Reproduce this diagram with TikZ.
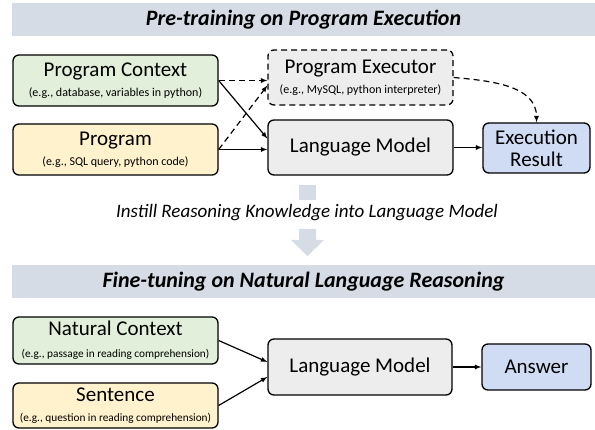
\documentclass[tikz,border=0pt]{standalone}
\usepackage{fontspec}
\setmainfont{Carlito}
\definecolor{vertclair}{HTML}{E2EFDA}
\definecolor{jauneclair}{HTML}{FFF2CC}
\definecolor{grisclair}{HTML}{EDEDED}
\definecolor{bleuclair}{HTML}{D0DCF4}
\definecolor{grisbleu}{HTML}{D6DCE5}
\newcommand{\legende}[1]{{\fontsize{12}{13}\selectfont #1}}
\newcommand{\petitelegende}[1]{{\fontsize{11.3}{13}\selectfont #1}}
\begin{document}
\begin{tikzpicture}[x=1pt, y=-1pt]
			\tikzset{boite/.style={draw=black, line width=1.3pt, rounded corners=6pt, align=center, inner sep=1pt, font=\fontsize{21}{20}\selectfont}, fleche/.style={>=latex, ->, line width=1.2pt}, tirets/.style={dash pattern=on 6pt off 4pt}, bandeau/.style={fill=grisbleu, minimum width=583pt, minimum height=33pt, font=\fontsize{22}{24}\selectfont\bfseries\itshape}};

			\useasboundingbox (0,0) rectangle (595,430);

			\node[bandeau] (titre1) at (303.5, 19.5) {Pre-training on Program Execution};
			\node[bandeau] (titre2) at (303.5,281.5) {Fine-tuning on Natural Language Reasoning};

			\node[boite, fill=vertclair,  minimum width=205pt, minimum height=51pt] (pctx) at (115.5,  80.5) {Program Context\\\legende{(e.g., database, variables in python)}};
			\node[boite, fill=jauneclair, minimum width=205pt, minimum height=51pt] (prog) at (115.5, 149.5) {Program\\\legende{(e.g., SQL query, python code)}};
			\node[boite, fill=grisclair, tirets, minimum width=185pt, minimum height=55pt] (exec) at (360.5, 77.5) {Program Executor\\\legende{(e.g., MySQL, python interpreter)}};
			\node[boite, fill=grisclair,  minimum width=185pt, minimum height=55pt] (lm1) at (360.5, 147.5) {Language Model};
			\node[boite, fill=bleuclair,  minimum width=107pt, minimum height=50pt] (res) at (536.5, 148) {Execution\\[2pt]Result};

			\node[boite, fill=vertclair,  minimum width=205pt, minimum height=47pt] (nctx) at (115.5, 340.5) {Natural Context\\[2pt]\petitelegende{(e.g., passage in reading comprehension)}};
			\node[boite, fill=jauneclair, minimum width=205pt, minimum height=45pt] (sent) at (115.5, 405.5) {Sentence\\\petitelegende{(e.g., question in reading comprehension)}};
			\node[boite, fill=grisclair,  minimum width=184pt, minimum height=56pt] (lm2) at (360, 367) {Language Model};
			\node[boite, fill=bleuclair,  minimum width=109pt, minimum height=46pt] (ans) at (536.5, 367) {Answer};

			% fleche grise entre les deux parties
			\fill[grisbleu] (299,185) rectangle (316,200);
			\fill[grisbleu] (299,229) -- (316,229) -- (316,240) -- (324,240) -- (307.5,256) -- (291,240) -- (299,240) -- cycle;
			\node[font=\fontsize{19}{22}\selectfont\itshape] (instill) at (307, 213) {Instill Reasoning Knowledge into Language Model};

			\draw[fleche, tirets] (pctx.east) -- (pctx.east -| exec.west);
			\draw[fleche] (pctx.east) -- ([yshift=9pt]lm1.west);
			\draw[fleche, tirets] (prog.east) -- ([yshift=-8pt]exec.west);
			\draw[fleche] (prog.east) -- (prog.east -| lm1.west);
			\draw[fleche, tirets] (exec.east) to[out=-5, in=90] (res.north);
			\draw[fleche] (lm1.east) -- (lm1.east -| res.west);

			\draw[fleche] (nctx.east) -- ([yshift=5pt]lm2.west);
			\draw[fleche] (sent.east) -- ([yshift=-10pt]lm2.west);
			\draw[fleche] (lm2.east) -- (ans.west);

		\end{tikzpicture}
\end{document}
